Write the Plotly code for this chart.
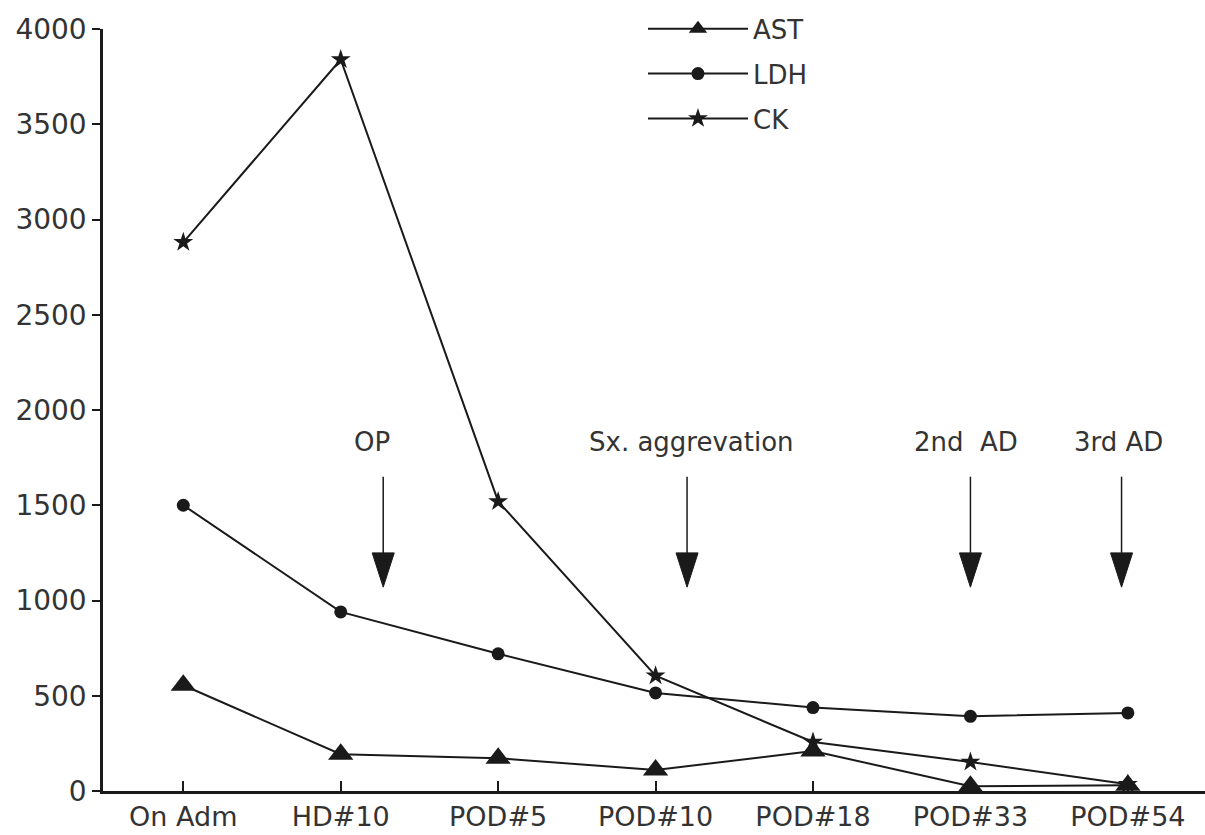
import plotly.graph_objects as go

# ---- data ----
categories = ["On Adm", "HD#10", "POD#5", "POD#10", "POD#18", "POD#33", "POD#54"]
ast = [555, 193, 172, 110, 210, 25, 30]
ldh = [1500, 940, 720, 515, 438, 392, 410]
ck = [2880, 3840, 1520, 605, 257, 152, 35]

event_labels = ["OP", "Sx. aggrevation", "2nd  AD", "3rd AD"]
event_label_x = [1.2, 3.23, 4.97, 5.94]
event_arrow_x = [1.27, 3.2, 5.0, 5.96]
label_y = 1830
arrow_top_y = 1650
arrow_base_y = 1250
arrow_tip_y = 1070

INK = "#1a1a1a"
FONT = "DejaVu Sans"

xi = list(range(len(categories)))

fig = go.Figure()
series = [("AST", ast, "triangle-up", 22), ("LDH", ldh, "circle", 13), ("CK", ck, "star", 15)]
for i, (name, vals, sym, sz) in enumerate(series):
    fig.add_trace(go.Scatter(
        x=xi, y=vals, name=name, mode="lines+markers",
        line=dict(color=INK, width=2),
        marker=dict(symbol=sym, size=sz, color=INK),
        legendgroup=name,
    ))

shapes = []
annotations = []
hw = 0.07
for lab, lx, ax in zip(event_labels, event_label_x, event_arrow_x):
    annotations.append(dict(x=lx, y=label_y, xref="x", yref="y", text=lab, showarrow=False,
                            font=dict(family=FONT, size=26, color="#333")))
    shapes.append(dict(type="line", xref="x", yref="y", x0=ax, x1=ax, y0=arrow_top_y, y1=arrow_base_y,
                       line=dict(color=INK, width=1.5)))
    shapes.append(dict(type="path", xref="x", yref="y",
                       path=f"M {ax-hw},{arrow_base_y} L {ax+hw},{arrow_base_y} L {ax},{arrow_tip_y} Z",
                       fillcolor=INK, line=dict(color=INK, width=1)))

fig.update_layout(
    width=1205, height=835,
    margin=dict(l=103, r=0, t=29, b=44),
    paper_bgcolor="white", plot_bgcolor="white",
    font=dict(family=FONT, color="#333"),
    showlegend=True,
    legend=dict(x=0.49, y=1.031, xanchor="left", yanchor="top",
                font=dict(family=FONT, size=26, color="#333"),
                itemwidth=100, tracegroupgap=8, bgcolor="rgba(0,0,0,0)"),
    shapes=shapes, annotations=annotations,
)
fig.update_xaxes(
    range=[-0.51, 6.49], tickmode="array", tickvals=xi, ticktext=categories,
    showgrid=False, zeroline=False, showline=True, linecolor=INK, linewidth=2.5,
    ticks="inside", ticklen=10, tickwidth=1.5, tickcolor=INK,
    tickfont=dict(family=FONT, size=27, color="#333"),
)
fig.update_yaxes(
    range=[0, 4000], tickmode="array", tickvals=[0, 500, 1000, 1500, 2000, 2500, 3000, 3500, 4000],
    showgrid=False, zeroline=False, showline=True, linecolor=INK, linewidth=2.5,
    ticks="outside", ticklen=8, tickwidth=1.5, tickcolor=INK,
    tickfont=dict(family=FONT, size=28, color="#333"),
)

fig.write_html("out.html", config={"displayModeBar": False},
               post_script="document.body.style.margin='0';")
